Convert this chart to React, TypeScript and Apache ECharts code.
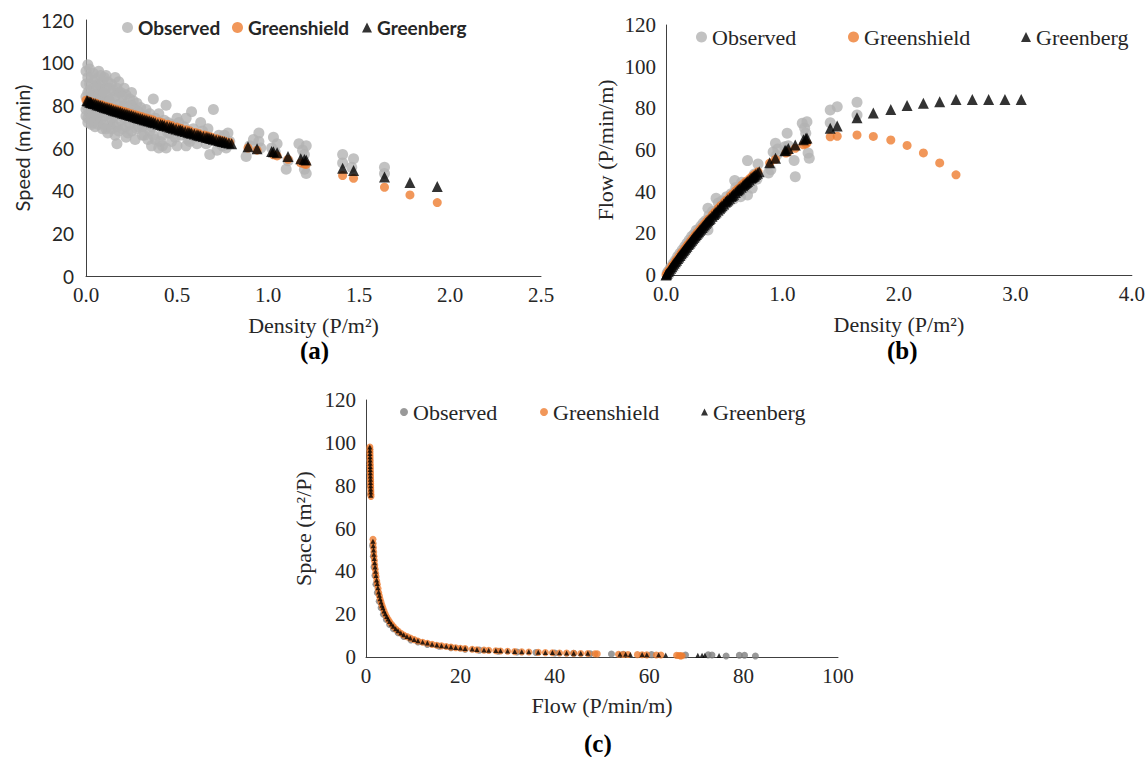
import React, { useEffect, useRef } from "react";
import * as echarts from "echarts";

// ---------- (a) Speed vs Density ----------
const obsA: number[][] = [
  [0.01, 99], [0.02, 97], [0.01, 93], [0.02, 90], [0.01, 86], [0.02, 83], [0.01, 79], [0.02, 76], [0.01, 74], [0.03, 71],
  [0.04, 95], [0.05, 92], [0.04, 88], [0.05, 85], [0.04, 80], [0.05, 77], [0.06, 74], [0.05, 70], [0.07, 96], [0.07, 90],
  [0.08, 87], [0.08, 82], [0.09, 78], [0.08, 73], [0.09, 69], [0.10, 93], [0.11, 94], [0.11, 88], [0.12, 84], [0.11, 80],
  [0.12, 76], [0.13, 72], [0.12, 67], [0.14, 90], [0.15, 87], [0.14, 83], [0.15, 79], [0.16, 75], [0.15, 71], [0.16, 66],
  [0.17, 62], [0.18, 91], [0.18, 86], [0.19, 81], [0.20, 77], [0.19, 73], [0.20, 69], [0.21, 88], [0.22, 85], [0.22, 80],
  [0.23, 75], [0.24, 71], [0.23, 67], [0.25, 86], [0.26, 82], [0.27, 78], [0.26, 73], [0.28, 69], [0.27, 64], [0.29, 77],
  [0.30, 74], [0.31, 70], [0.32, 66], [0.33, 78], [0.34, 72], [0.35, 68], [0.36, 61], [0.37, 83], [0.38, 74], [0.38, 64],
  [0.40, 60], [0.41, 70], [0.42, 66], [0.42, 61], [0.44, 80], [0.45, 72], [0.46, 67], [0.47, 63], [0.48, 69], [0.50, 61],
  [0.51, 72], [0.52, 66], [0.54, 70], [0.56, 64], [0.57, 63], [0.58, 77], [0.60, 66], [0.62, 65], [0.64, 68], [0.66, 62],
  [0.68, 57], [0.70, 78], [0.71, 64], [0.72, 59], [0.74, 62], [0.76, 66], [0.78, 67], [0.79, 63],
  [0.00, 96], [0.00, 90], [0.00, 84], [0.00, 78], [0.00, 75], [0.01, 72], [0.02, 87], [0.03, 93], [0.03, 84], [0.03, 78],
  [0.03, 74], [0.04, 72], [0.06, 89], [0.06, 83], [0.06, 79], [0.07, 85], [0.07, 76], [0.07, 71], [0.08, 94], [0.09, 91],
  [0.09, 84], [0.10, 86], [0.10, 81], [0.10, 75], [0.10, 71], [0.11, 69], [0.12, 91], [0.13, 88], [0.13, 82], [0.13, 77],
  [0.14, 74], [0.14, 69], [0.16, 93], [0.16, 84], [0.17, 88], [0.17, 80], [0.17, 70], [0.18, 76], [0.18, 68], [0.19, 86],
  [0.20, 84], [0.21, 80], [0.21, 74], [0.22, 70], [0.22, 65], [0.24, 83], [0.24, 77], [0.25, 80], [0.25, 68], [0.26, 76],
  [0.28, 81], [0.28, 73], [0.29, 70], [0.30, 79], [0.31, 66], [0.32, 71], [0.33, 75], [0.34, 64], [0.35, 76], [0.36, 70],
  [0.37, 66], [0.39, 72], [0.40, 76], [0.41, 63], [0.43, 73], [0.44, 60], [0.45, 67], [0.47, 71], [0.49, 65], [0.50, 74],
  [0.53, 68], [0.55, 74], [0.55, 61], [0.59, 69], [0.61, 62], [0.63, 72], [0.65, 65], [0.67, 69], [0.69, 64], [0.73, 66],
  [0.75, 61], [0.77, 60],
  [0.88, 56], [0.90, 61], [0.92, 64], [0.95, 67], [0.95, 63], [0.96, 60], [1.02, 60], [1.03, 65], [1.04, 58], [1.05, 62],
  [1.10, 50], [1.11, 54], [1.17, 62], [1.19, 59], [1.20, 57], [1.21, 61], [1.21, 48], [1.20, 50],
  [1.41, 57], [1.41, 53], [1.47, 55], [1.46, 51], [1.64, 51], [1.64, 48],
];
const gsA: number[][] = [
  [0.00, 82.4], [0.01, 82.1], [0.02, 81.8], [0.03, 81.6], [0.05, 81.1], [0.06, 80.8], [0.08, 80.3], [0.09, 80.1], [0.11, 79.6], [0.13, 79.1],
  [0.14, 78.8], [0.16, 78.3], [0.18, 77.8], [0.19, 77.6], [0.21, 77.1], [0.23, 76.6], [0.25, 76.1], [0.27, 75.6], [0.29, 75.1], [0.31, 74.6],
  [0.33, 74.1], [0.35, 73.6], [0.37, 73.1], [0.40, 72.3], [0.42, 71.8], [0.45, 71.1], [0.47, 70.6], [0.50, 69.8], [0.52, 69.3], [0.55, 68.6],
  [0.57, 68.1], [0.60, 67.3], [0.62, 66.8], [0.65, 66.1], [0.67, 65.6], [0.69, 65.1], [0.72, 64.3], [0.74, 63.8], [0.76, 63.3], [0.79, 62.6],
  [0.89, 60.0], [0.94, 59.0], [1.03, 56.8], [1.05, 56.3], [1.11, 54.7], [1.18, 53.0], [1.20, 52.5], [1.21, 52.3],
  [1.41, 47.1], [1.47, 45.8], [1.64, 41.6], [1.78, 38.0], [1.93, 34.4],
];
const gbA: number[][] = [
  [0.01, 82.0], [0.02, 81.6], [0.03, 81.2], [0.04, 80.9], [0.06, 80.3], [0.07, 80.0], [0.09, 79.4], [0.10, 79.1], [0.12, 78.6], [0.14, 78.0],
  [0.15, 77.7], [0.17, 77.2], [0.19, 76.7], [0.20, 76.4], [0.22, 75.9], [0.24, 75.4], [0.26, 74.9], [0.28, 74.3], [0.30, 73.8], [0.32, 73.3],
  [0.34, 72.8], [0.36, 72.3], [0.38, 71.8], [0.41, 71.0], [0.43, 70.5], [0.46, 69.8], [0.48, 69.3], [0.51, 68.6], [0.53, 68.1], [0.56, 67.4],
  [0.58, 66.9], [0.61, 66.2], [0.63, 65.7], [0.66, 65.0], [0.68, 64.6], [0.70, 64.1], [0.73, 63.5], [0.75, 63.0], [0.77, 62.6], [0.80, 62.0],
  [0.005, 82.3], [0.025, 81.5], [0.05, 80.7], [0.08, 79.8], [0.11, 78.9], [0.13, 78.4], [0.16, 77.5], [0.18, 77.0], [0.21, 76.2], [0.23, 75.7],
  [0.25, 75.2], [0.27, 74.7], [0.29, 74.1], [0.31, 73.6], [0.33, 73.1], [0.35, 72.6], [0.37, 72.1], [0.395, 71.4], [0.42, 70.8], [0.445, 70.2],
  [0.47, 69.6], [0.495, 68.9], [0.52, 68.4], [0.545, 67.7], [0.57, 67.2], [0.595, 66.6], [0.62, 66.0], [0.645, 65.4], [0.67, 64.9], [0.69, 64.4],
  [0.715, 63.8], [0.74, 63.3], [0.76, 62.9], [0.785, 62.3],
  [0.89, 60.6], [0.94, 59.7], [1.02, 58.4], [1.03, 58.2], [1.05, 57.8], [1.11, 56.0], [1.18, 55.0], [1.20, 54.6], [1.21, 54.4],
  [1.41, 50.5], [1.47, 49.4], [1.64, 46.4], [1.78, 43.8], [1.93, 41.9],
];

// ---------- (b) Flow vs Density ----------
const obsB: number[][] = [
  [0.01, 1.0], [0.02, 1.8], [0.03, 2.2], [0.04, 3.6], [0.05, 3.5], [0.06, 5.4], [0.07, 5.0], [0.08, 7.0], [0.09, 6.4], [0.10, 8.9],
  [0.11, 8.0], [0.12, 10.4], [0.13, 9.2], [0.14, 12.0], [0.15, 10.8], [0.16, 13.6], [0.17, 12.2], [0.18, 15.2], [0.19, 13.5], [0.20, 16.8],
  [0.21, 15.0], [0.22, 18.5], [0.23, 16.3], [0.24, 19.6], [0.25, 17.5], [0.26, 21.5], [0.27, 19.0], [0.28, 22.0], [0.29, 20.5], [0.30, 23.5],
  [0.31, 21.8], [0.32, 25.0], [0.33, 23.0], [0.34, 26.0], [0.35, 24.0], [0.36, 32.0], [0.36, 21.6], [0.37, 28.5], [0.38, 26.0], [0.40, 30.5],
  [0.41, 28.0], [0.43, 36.8], [0.44, 31.0], [0.45, 34.5], [0.46, 30.5], [0.48, 35.5], [0.50, 33.0], [0.52, 37.5], [0.54, 35.0], [0.56, 39.0],
  [0.58, 36.5], [0.59, 45.3], [0.60, 42.0], [0.62, 39.5], [0.64, 37.6], [0.65, 44.5], [0.67, 41.5], [0.70, 54.9], [0.70, 38.4], [0.72, 45.0],
  [0.74, 41.6], [0.76, 48.5], [0.79, 53.3], [0.78, 46.0],
  [0.88, 49.0], [0.90, 50.5], [0.92, 59.0], [0.94, 63.2], [0.95, 57.5], [0.96, 60.5], [1.02, 61.5], [1.04, 68.0], [1.05, 62.0], [1.10, 55.0],
  [1.11, 47.2], [1.17, 72.8], [1.19, 70.5], [1.20, 68.0], [1.21, 73.5], [1.22, 58.5], [1.23, 56.0],
  [1.41, 79.2], [1.41, 73.1], [1.47, 80.8], [1.64, 82.9], [1.64, 76.8],
];
const gsB: number[][] = [
  [0.00, 0.0], [0.01, 0.8], [0.02, 1.6], [0.03, 2.5], [0.05, 4.1], [0.06, 4.9], [0.08, 6.4], [0.09, 7.2], [0.11, 8.8], [0.13, 10.3],
  [0.14, 11.1], [0.16, 12.6], [0.18, 14.0], [0.19, 14.8], [0.21, 16.2], [0.23, 17.7], [0.25, 19.1], [0.27, 20.5], [0.29, 21.8], [0.31, 23.2],
  [0.33, 24.5], [0.35, 25.8], [0.37, 27.1], [0.40, 29.0], [0.42, 30.2], [0.45, 32.1], [0.47, 33.3], [0.50, 35.0], [0.52, 36.1], [0.55, 37.8],
  [0.57, 38.9], [0.60, 40.5], [0.62, 41.5], [0.65, 43.1], [0.67, 44.1], [0.69, 45.1], [0.72, 46.4], [0.74, 47.4], [0.76, 48.3], [0.79, 49.6],
  [0.89, 53.7], [0.94, 55.5], [1.03, 58.5], [1.05, 59.1], [1.11, 60.8], [1.18, 62.5], [1.20, 63.0], [1.21, 63.3],
  [1.41, 66.3], [1.47, 66.6], [1.64, 67.2], [1.78, 66.5], [1.93, 64.8], [2.07, 62.2], [2.21, 58.6], [2.35, 53.8], [2.49, 48.1],
];
const gbB: number[][] = [
  [0.00, 0.0], [0.01, 0.8], [0.02, 1.6], [0.04, 3.2], [0.06, 4.8], [0.07, 5.6], [0.09, 7.1], [0.10, 7.9], [0.12, 9.4], [0.14, 10.9],
  [0.15, 11.7], [0.17, 13.1], [0.19, 14.6], [0.20, 15.3], [0.22, 16.7], [0.24, 18.1], [0.26, 19.5], [0.28, 20.8], [0.30, 22.1], [0.32, 23.5],
  [0.34, 24.8], [0.36, 26.0], [0.38, 27.3], [0.41, 29.1], [0.43, 30.3], [0.46, 32.1], [0.48, 33.3], [0.51, 35.0], [0.53, 36.1], [0.56, 37.7],
  [0.58, 38.8], [0.61, 40.4], [0.63, 41.4], [0.66, 42.9], [0.68, 43.9], [0.70, 44.9], [0.73, 46.4], [0.75, 47.3], [0.77, 48.2], [0.80, 49.6],
  [0.005, 0.4], [0.03, 2.4], [0.05, 4.0], [0.08, 6.4], [0.11, 8.7], [0.13, 10.2], [0.16, 12.4], [0.18, 13.8], [0.21, 16.0], [0.23, 17.4],
  [0.25, 18.8], [0.27, 20.2], [0.29, 21.5], [0.31, 22.8], [0.33, 24.1], [0.35, 25.4], [0.37, 26.7], [0.395, 28.2], [0.42, 29.7], [0.445, 31.2],
  [0.47, 32.7], [0.495, 34.1], [0.52, 35.5], [0.545, 36.9], [0.57, 38.2], [0.595, 39.6], [0.62, 40.9], [0.645, 42.1], [0.67, 43.4], [0.69, 44.4],
  [0.715, 45.6], [0.74, 46.8], [0.76, 47.7], [0.785, 48.9],
  [0.89, 53.9], [0.94, 56.1], [1.02, 59.6], [1.03, 59.9], [1.05, 60.7], [1.11, 62.4], [1.18, 64.9], [1.20, 65.5], [1.21, 65.8],
  [1.41, 70.5], [1.47, 71.5], [1.64, 75.5], [1.78, 77.8], [1.93, 79.5], [2.07, 81.4], [2.21, 82.5], [2.35, 83.2], [2.49, 84.2],
  [2.63, 84.3], [2.77, 84.3], [2.91, 84.3], [3.05, 84.3],
];

// ---------- (c) Space vs Flow ----------
const obsC: number[][] = [
  [0.75, 97], [0.8, 92], [0.85, 86], [0.9, 80], [0.95, 76], [1.4, 52], [1.55, 47], [1.7, 42], [1.9, 38], [2.1, 34],
  [2.4, 30], [2.8, 26], [3.2, 23], [3.7, 20], [4.3, 17.5], [5.0, 15.2], [5.8, 13.2], [6.8, 11.3], [8.0, 9.6], [9.5, 8.0],
  [11.0, 7.0], [13.0, 5.9], [15.5, 5.0], [18.0, 4.3], [21.0, 3.6], [24.0, 3.2], [28.0, 2.7], [32.0, 2.3], [36.0, 2.1], [40.0, 1.9],
  [44.0, 1.7], [47.5, 1.5], [52.0, 1.4], [54.5, 1.3], [60.5, 1.1], [67.7, 0.95], [72.5, 1.0], [73.3, 0.95], [76.3, 0.5], [79.1, 0.8],
  [80.2, 0.8], [82.5, 0.5],
];
const gsC: number[][] = [
  [0.82, 98], [0.83, 97], [0.84, 96], [0.85, 95], [0.86, 94], [0.86, 93], [0.87, 92], [0.88, 91], [0.89, 90], [0.90, 89],
  [0.91, 88], [0.92, 87], [0.93, 86], [0.94, 85], [0.95, 84], [0.96, 83], [0.97, 82], [0.98, 81], [0.99, 80], [1.00, 79],
  [1.02, 78], [1.03, 77], [1.04, 76], [1.06, 75],
  [1.48, 55], [1.52, 53], [1.58, 51], [1.64, 49], [1.70, 47], [1.78, 45], [1.85, 43], [1.95, 41], [2.05, 39], [2.15, 37.5],
  [2.28, 35.5], [2.40, 34], [2.55, 32], [2.70, 30], [2.85, 28.5], [3.00, 27], [3.20, 25.5], [3.40, 24], [3.60, 22.8], [3.85, 21.3],
  [4.10, 20], [4.40, 18.7], [4.70, 17.5], [5.00, 16.5], [5.40, 15.3], [5.80, 14.2], [6.30, 13.1], [6.80, 12.1], [7.40, 11.1], [8.00, 10.3],
  [8.70, 9.5], [9.40, 8.8], [10.2, 8.1], [11.0, 7.5], [12.0, 6.9], [13.0, 6.4], [14.0, 5.9], [15.0, 5.5], [16.0, 5.2], [17.0, 4.9],
  [18.0, 4.6], [19.0, 4.3], [20.0, 4.1], [21.0, 3.9], [22.5, 3.6], [23.5, 3.4], [25.0, 3.2], [26.0, 3.1], [27.5, 2.9], [28.5, 2.8],
  [30.0, 2.65], [31.5, 2.5], [33.0, 2.4], [34.5, 2.3], [36.5, 2.15], [38.0, 2.05], [39.5, 1.95], [41.0, 1.9], [42.5, 1.8], [44.0, 1.72],
  [45.5, 1.65], [47.0, 1.6], [48.5, 1.5], [49.0, 1.45], [53.5, 1.25], [54.5, 1.2], [55.5, 1.15], [57.5, 1.1], [58.5, 1.05], [59.5, 1.0],
  [61.5, 0.95], [62.5, 0.9], [65.8, 0.75], [66.3, 0.7], [66.7, 0.62], [67.0, 0.55], [66.6, 0.5],
];
const gbC: number[][] = [
  [0.81, 98], [0.82, 96.5], [0.84, 95], [0.85, 93.5], [0.86, 92], [0.88, 90.5], [0.89, 89], [0.90, 87.5], [0.92, 86], [0.93, 84.5],
  [0.95, 83], [0.96, 81.5], [0.98, 80], [0.99, 78.5], [1.01, 77], [1.03, 75.5],
  [1.47, 54], [1.53, 52], [1.60, 50], [1.67, 48], [1.75, 46], [1.83, 44], [1.92, 42], [2.02, 40], [2.12, 38], [2.25, 36],
  [2.38, 34.3], [2.52, 32.3], [2.68, 30.3], [2.83, 28.8], [2.98, 27.2], [3.18, 25.7], [3.38, 24.2], [3.58, 23], [3.82, 21.5], [4.08, 20.2],
  [4.38, 18.9], [4.68, 17.7], [4.98, 16.6], [5.38, 15.4], [5.78, 14.3], [6.28, 13.2], [6.78, 12.2], [7.38, 11.2], [7.98, 10.4], [8.68, 9.6],
  [9.38, 8.9], [10.2, 8.2], [11.0, 7.6], [12.0, 7.0], [13.0, 6.5], [14.0, 6.0], [15.0, 5.6], [16.0, 5.3], [17.0, 5.0], [18.0, 4.7],
  [19.0, 4.4], [20.0, 4.2], [21.0, 4.0], [22.5, 3.7], [23.5, 3.5], [25.0, 3.3], [26.0, 3.2], [27.5, 3.0], [28.5, 2.9], [30.0, 2.75],
  [31.5, 2.6], [33.0, 2.5], [34.5, 2.4], [36.5, 2.25], [38.0, 2.15], [39.5, 2.05], [41.0, 2.0], [42.5, 1.9], [44.0, 1.8], [45.5, 1.75],
  [47.0, 1.7], [53.8, 1.3], [55.0, 1.25], [56.0, 1.2], [58.5, 1.15], [59.5, 1.1], [62.0, 1.0], [63.5, 0.95], [70.3, 0.85], [71.2, 0.8],
  [71.8, 0.8], [74.8, 0.7],
];

// tick values
const yTicks = [0, 20, 40, 60, 80, 100, 120];

const SERIF = "'Liberation Serif', 'Times New Roman', serif";
const SANS = "Lato, 'Open Sans', sans-serif";
const TXT = "#262626";
const GRAY_LIGHT = "#b3b3b3";
const GRAY_DARK = "#808080";
const ORANGE = "#ed7d31";
const BLACK = "#000000";

function legendItem(
  name: string,
  icon: string,
  color: string,
  left: number,
  top: number,
  size: number,
  font: string,
  fontSize: number,
  fontWeight: string
) {
  return {
    left,
    top,
    padding: 0,
    itemWidth: size,
    itemHeight: size,
    itemGap: 0,
    data: [{ name, icon, itemStyle: { color } }],
    textStyle: { fontFamily: font, fontSize, fontWeight, color: TXT },
  };
}

function axisCommon() {
  return {
    axisLine: { show: true, onZero: false, lineStyle: { color: "#404040", width: 1 } },
    axisTick: { show: false },
    splitLine: { show: false },
  };
}

export default function App() {
  const ref = useRef<HTMLDivElement>(null);

  useEffect(() => {
    if (!ref.current) return;
    const chart = echarts.init(ref.current, null, { renderer: "svg" });
    const one = (v: number) => v.toFixed(1);

    const option: any = {
      animation: false,
      backgroundColor: "#ffffff",
      grid: [
        { left: 86, top: 20, width: 455, height: 256 },
        { left: 666, top: 25, width: 470, height: 250 },
        { left: 366, top: 400, width: 472, height: 257 },
      ],
      xAxis: [
        {
          gridIndex: 0, type: "value", min: 0, max: 2.5, interval: 0.5,
          ...axisCommon(),
          axisLabel: { fontFamily: SERIF, fontSize: 21, color: TXT, margin: 8, formatter: one },
          name: "Density (P/m²)", nameLocation: "middle", nameGap: 38,
          nameTextStyle: { fontFamily: SERIF, fontSize: 22, color: TXT },
        },
        {
          gridIndex: 1, type: "value", min: 0, max: 4, interval: 1,
          ...axisCommon(),
          axisLabel: { fontFamily: SERIF, fontSize: 21, color: TXT, margin: 8, formatter: one },
          name: "Density (P/m²)", nameLocation: "middle", nameGap: 38,
          nameTextStyle: { fontFamily: SERIF, fontSize: 22, color: TXT },
        },
        {
          gridIndex: 2, type: "value", min: 0, max: 100, interval: 20,
          ...axisCommon(),
          axisLabel: { fontFamily: SERIF, fontSize: 21, color: TXT, margin: 8 },
          name: "Flow (P/min/m)", nameLocation: "middle", nameGap: 37,
          nameTextStyle: { fontFamily: SERIF, fontSize: 22, color: TXT },
        },
      ],
      yAxis: [
        {
          gridIndex: 0, type: "value", min: yTicks[0], max: yTicks[yTicks.length - 1], interval: 20,
          ...axisCommon(),
          axisLabel: { fontFamily: SANS, fontSize: 19, color: TXT, margin: 12 },
          name: "Speed (m/min)", nameLocation: "middle", nameGap: 54,
          nameTextStyle: { fontFamily: SANS, fontSize: 20, color: TXT },
        },
        {
          gridIndex: 1, type: "value", min: yTicks[0], max: yTicks[yTicks.length - 1], interval: 20,
          ...axisCommon(),
          axisLabel: { fontFamily: SERIF, fontSize: 21, color: TXT, margin: 10 },
          name: "Flow (P/min/m)", nameLocation: "middle", nameGap: 50,
          nameTextStyle: { fontFamily: SERIF, fontSize: 22, color: TXT },
        },
        {
          gridIndex: 2, type: "value", min: yTicks[0], max: yTicks[yTicks.length - 1], interval: 20,
          ...axisCommon(),
          axisLabel: { fontFamily: SERIF, fontSize: 21, color: TXT, margin: 10 },
          name: "Space (m²/P)", nameLocation: "middle", nameGap: 52,
          nameTextStyle: { fontFamily: SERIF, fontSize: 22, color: TXT },
        },
      ],
      legend: [
        legendItem("Observed", "circle", GRAY_LIGHT, 122, 18, 11, SANS, 19, "bold"),
        legendItem("Greenshield", "circle", ORANGE, 232, 18, 11, SANS, 19, "bold"),
        legendItem("Greenberg", "triangle", BLACK, 362, 18, 10, SANS, 19, "bold"),
        legendItem("Observed", "circle", GRAY_LIGHT, 696, 26, 11, SERIF, 22, "normal"),
        legendItem("Greenshield", "circle", ORANGE, 848, 26, 11, SERIF, 22, "normal"),
        legendItem("Greenberg", "triangle", BLACK, 1021, 26, 10, SERIF, 22, "normal"),
        legendItem("Observed", "circle", GRAY_DARK, 400, 401, 8, SERIF, 22, "normal"),
        legendItem("Greenshield", "circle", ORANGE, 540, 401, 8, SERIF, 22, "normal"),
        legendItem("Greenberg", "triangle", BLACK, 701, 401, 7, SERIF, 22, "normal"),
      ],
      graphic: [
        { type: "text", left: 300, top: 338, style: { text: "(a)", font: `bold 25px ${SERIF}`, fill: "#000" } },
        { type: "text", left: 887, top: 338, style: { text: "(b)", font: `bold 25px ${SERIF}`, fill: "#000" } },
        { type: "text", left: 584, top: 731, style: { text: "(c)", font: `bold 25px ${SERIF}`, fill: "#000" } },
      ],
      series: [
        { name: "Observed", type: "scatter", xAxisIndex: 0, yAxisIndex: 0, data: obsA, symbol: "circle", symbolSize: 11, itemStyle: { color: GRAY_LIGHT } },
        { name: "Greenshield", type: "scatter", xAxisIndex: 0, yAxisIndex: 0, data: gsA, symbol: "circle", symbolSize: 9, itemStyle: { color: ORANGE } },
        { name: "Greenberg", type: "scatter", xAxisIndex: 0, yAxisIndex: 0, data: gbA, symbol: "triangle", symbolSize: 11, itemStyle: { color: BLACK } },
        { name: "Observed", type: "scatter", xAxisIndex: 1, yAxisIndex: 1, data: obsB, symbol: "circle", symbolSize: 11, itemStyle: { color: GRAY_LIGHT } },
        { name: "Greenshield", type: "scatter", xAxisIndex: 1, yAxisIndex: 1, data: gsB, symbol: "circle", symbolSize: 9, itemStyle: { color: ORANGE } },
        { name: "Greenberg", type: "scatter", xAxisIndex: 1, yAxisIndex: 1, data: gbB, symbol: "triangle", symbolSize: 11, itemStyle: { color: BLACK } },
        { name: "Observed", type: "scatter", xAxisIndex: 2, yAxisIndex: 2, data: obsC, symbol: "circle", symbolSize: 7, itemStyle: { color: GRAY_DARK } },
        { name: "Greenshield", type: "scatter", xAxisIndex: 2, yAxisIndex: 2, data: gsC, symbol: "circle", symbolSize: 7, itemStyle: { color: ORANGE } },
        { name: "Greenberg", type: "scatter", xAxisIndex: 2, yAxisIndex: 2, data: gbC, symbol: "triangle", symbolSize: 5, itemStyle: { color: BLACK } },
      ],
    };

    chart.setOption(option);
    return () => chart.dispose();
  }, []);

  return (
    <div
      ref={ref}
      style={{ position: "absolute", left: 0, top: 0, width: 1148, height: 757, background: "#fff" }}
    />
  );
}
